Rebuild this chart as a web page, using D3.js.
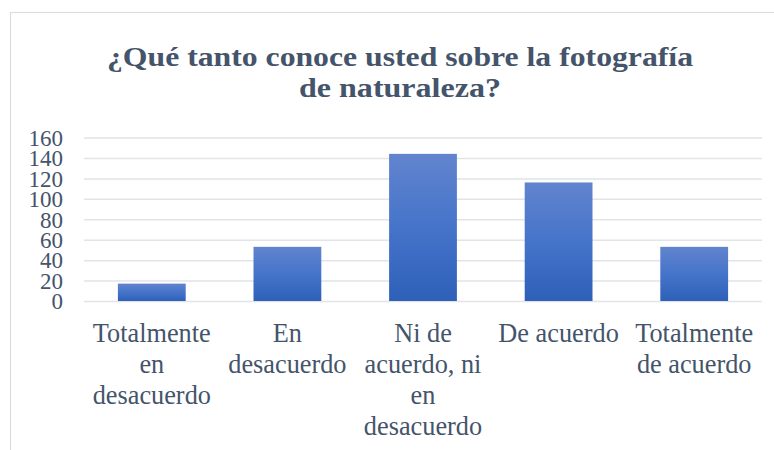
<!DOCTYPE html>
<html><head><meta charset="utf-8">
<script src="https://cdn.jsdelivr.net/npm/d3@7"></script>
<style>body{margin:0;background:#fff;}svg{display:block;}</style>
</head><body>
<svg id="c" width="774" height="450"></svg>
<script>
const categories = ["Totalmente en desacuerdo","En desacuerdo","Ni de acuerdo, ni en desacuerdo","De acuerdo","Totalmente de acuerdo"];
const values = [17, 53, 144, 116, 53];
const yTicks = [0,20,40,60,80,100,120,140,160];
const titleLines = ["¿Qué tanto conoce usted sobre la fotografía","de naturaleza?"];

const svg = d3.select("#c");
const textColor = "#44546A";
const font = "Liberation Serif, Times New Roman, serif";

// chart border
svg.append("rect").attr("x",10.5).attr("y",12.5).attr("width",800).attr("height",500)
  .attr("fill","#fff").attr("stroke","#D9DDE3").attr("stroke-width",1.2);

const defs = svg.append("defs");
const g1 = defs.append("linearGradient").attr("id","bg").attr("x1",0).attr("y1",0).attr("x2",0).attr("y2",1);
g1.append("stop").attr("offset","0%").attr("stop-color","#6284CD");
g1.append("stop").attr("offset","50%").attr("stop-color","#4574CA");
g1.append("stop").attr("offset","100%").attr("stop-color","#2E60B8");

const x = d3.scaleBand().domain(categories).range([84, 762]).paddingInner(0.5).paddingOuter(0.25);
const y = d3.scaleLinear().domain([0,160]).range([301, 137.5]);

// title
const titleLens = [586, 202];
const t = svg.append("text").attr("text-anchor","middle").attr("fill",textColor)
  .attr("font-family",font).attr("font-weight","bold").attr("font-size",27);
titleLines.forEach((l,i)=>t.append("tspan").attr("x",400).attr("y",66+i*31)
  .attr("textLength",titleLens[i]).attr("lengthAdjust","spacingAndGlyphs").text(l));

// grid + y axis
const yAxis = d3.axisLeft(y).tickValues(yTicks).tickSize(-(762-84)).tickPadding(21);
const ga = svg.append("g").attr("transform","translate(84,0)").call(yAxis);
ga.select(".domain").remove();
ga.selectAll(".tick line").attr("stroke","#E1E4E9").attr("stroke-width",1.5);
ga.selectAll(".tick text").attr("fill",textColor).attr("font-family",font).attr("font-size",23).attr("dy","0.34em");

// bars
svg.append("g").selectAll("rect").data(values).join("rect")
  .attr("x",(d,i)=>x(categories[i]))
  .attr("y",d=>y(d))
  .attr("width",x.bandwidth())
  .attr("height",d=>y(0)-y(d))
  .attr("fill","url(#bg)");

// x labels with wrapping
const xl = svg.append("g");
categories.forEach(c=>{
  const cx = x(c)+x.bandwidth()/2;
  const txt = xl.append("text").attr("text-anchor","middle").attr("fill",textColor)
    .attr("font-family",font).attr("font-size",26.3);
  const words = c.split(" ");
  let lines = [], cur = [];
  const probe = txt.append("tspan");
  words.forEach(w=>{
    const test = cur.concat([w]).join(" ");
    probe.text(test);
    if (probe.node().getComputedTextLength() > 132 && cur.length) { lines.push(cur.join(" ")); cur=[w]; }
    else cur.push(w);
  });
  if (cur.length) lines.push(cur.join(" "));
  probe.remove();
  lines.forEach((l,i)=>txt.append("tspan").attr("x",cx).attr("y",342+i*31).text(l));
});
</script>
</body></html>
